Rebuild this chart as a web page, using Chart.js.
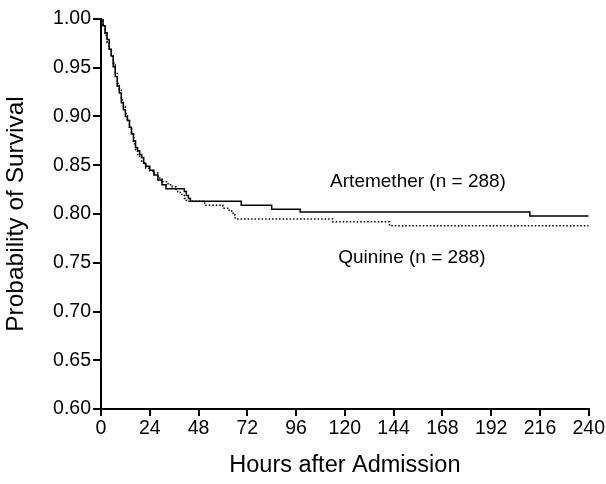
<!DOCTYPE html>
<html>
<head>
<meta charset="utf-8">
<script src="https://cdn.jsdelivr.net/npm/chart.js@4.4.0/dist/chart.umd.min.js"></script>
<style>
  html, body { margin: 0; padding: 0; background: #fff; }
  #wrap { width: 606px; height: 484px; }
</style>
</head>
<body>
<div id="wrap"><canvas id="kmChart" width="606" height="484"></canvas></div>
<script>
// Kaplan-Meier steps (hours, survival after the step)
const artemetherHours = [0, 1, 2, 3, 4, 5, 6, 7, 8, 9, 10, 11, 12, 13, 14, 15, 16, 17, 18, 19, 20, 21, 22, 24, 26, 28, 30, 32, 41, 42, 43, 44, 69, 84, 98, 211, 240];
const artemetherSurvival = [1.0, 0.993, 0.986, 0.979, 0.969, 0.962, 0.951, 0.941, 0.931, 0.924, 0.914, 0.907, 0.900, 0.896, 0.889, 0.882, 0.875, 0.868, 0.865, 0.861, 0.858, 0.852, 0.849, 0.845, 0.840, 0.835, 0.830, 0.826, 0.823, 0.819, 0.816, 0.813, 0.809, 0.805, 0.802, 0.798, 0.798];

const quinineHours = [0, 1, 2, 3, 4, 5, 6, 7, 8, 9, 10, 11, 12, 13, 14, 15, 16, 17, 18, 19, 20, 21, 22, 24, 26, 28, 30, 33, 35, 37, 39, 41, 42, 51, 60, 63, 65, 66, 114, 142, 240];
const quinineSurvival = [1.0, 0.993, 0.983, 0.976, 0.969, 0.962, 0.955, 0.945, 0.934, 0.927, 0.917, 0.910, 0.903, 0.896, 0.889, 0.882, 0.872, 0.865, 0.861, 0.858, 0.854, 0.851, 0.847, 0.844, 0.842, 0.837, 0.833, 0.830, 0.828, 0.823, 0.820, 0.816, 0.813, 0.809, 0.806, 0.803, 0.799, 0.795, 0.792, 0.788, 0.788];

const xTicks = [0, 24, 48, 72, 96, 120, 144, 168, 192, 216, 240];
const yTicks = [0.60, 0.65, 0.70, 0.75, 0.80, 0.85, 0.90, 0.95, 1.00];

const seriesLabels = ['Artemether (n = 288)', 'Quinine (n = 288)'];
// where each series label sits, in data units [hours, survival]
const labelPositions = [[156, 0.833], [153, 0.755]];

const FONT = 'Liberation Sans, Arial, Helvetica, sans-serif';

function toPoints(xs, ys) {
    return xs.map((x, i) => ({ x: x, y: ys[i] }));
}

// draws the two series labels inside the plot
const seriesText = {
    id: 'seriesText',
    afterDatasetsDraw(chart) {
        const ctx = chart.ctx;
        const xs = chart.scales.x;
        const ys = chart.scales.y;
        ctx.save();
        ctx.fillStyle = '#000';
        ctx.font = '19px ' + FONT;
        ctx.textAlign = 'center';
        ctx.textBaseline = 'middle';
        seriesLabels.forEach((txt, i) => {
            ctx.fillText(txt, xs.getPixelForValue(labelPositions[i][0]), ys.getPixelForValue(labelPositions[i][1]));
        });
        ctx.restore();
    }
};

const ctx = document.getElementById('kmChart').getContext('2d');
new Chart(ctx, {
    type: 'line',
    data: {
        datasets: [{
            label: seriesLabels[0],
            data: toPoints(artemetherHours, artemetherSurvival),
            stepped: true,
            borderColor: '#000',
            borderWidth: 1.5,
            pointRadius: 0,
            fill: false
        }, {
            label: seriesLabels[1],
            data: toPoints(quinineHours, quinineSurvival),
            stepped: true,
            borderColor: '#000',
            borderWidth: 1.5,
            borderDash: [1.5, 2],
            pointRadius: 0,
            fill: false
        }]
    },
    options: {
        responsive: false,
        animation: false,
        layout: { padding: { top: 19, right: 14, left: 0, bottom: 0 } },
        plugins: {
            legend: { display: false },
            tooltip: { enabled: false }
        },
        scales: {
            x: {
                type: 'linear',
                min: 0,
                max: 240,
                afterBuildTicks: axis => { axis.ticks = xTicks.map(v => ({ value: v })); },
                ticks: {
                    color: '#000',
                    font: { family: FONT, size: 19.5 },
                    padding: 1,
                    maxRotation: 0
                },
                grid: { drawOnChartArea: false, drawTicks: true, tickLength: 7, color: '#000', lineWidth: 2 },
                border: { color: '#000', width: 2 },
                title: {
                    display: true,
                    text: 'Hours after Admission',
                    color: '#000',
                    font: { family: FONT, size: 23.5 },
                    padding: { top: 19 }
                },
                afterFit: scale => { scale.height = 75; }
            },
            y: {
                type: 'linear',
                min: 0.6,
                max: 1.0,
                afterBuildTicks: axis => { axis.ticks = yTicks.map(v => ({ value: v })); },
                ticks: {
                    color: '#000',
                    font: { family: FONT, size: 19.5 },
                    padding: 2,
                    callback: v => v.toFixed(2)
                },
                grid: { drawOnChartArea: false, drawTicks: true, tickLength: 8, color: '#000', lineWidth: 2 },
                border: { color: '#000', width: 2 },
                title: {
                    display: true,
                    text: 'Probability of Survival',
                    color: '#000',
                    font: { family: FONT, size: 24.5 },
                    padding: { top: 2, bottom: 4 }
                },
                afterFit: scale => { scale.width = 101; }
            }
        }
    },
    plugins: [seriesText]
});
</script>
</body>
</html>
